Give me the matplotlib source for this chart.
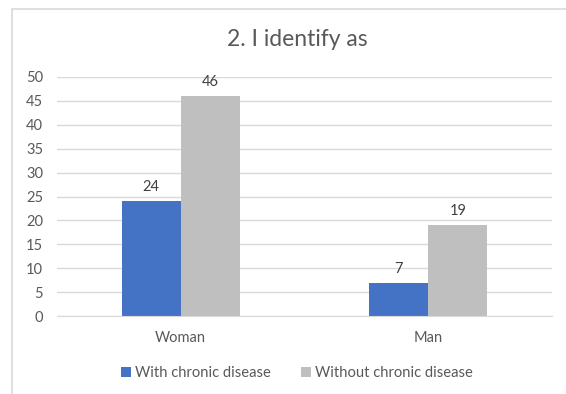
import numpy as np
import matplotlib.pyplot as plt
from matplotlib.patches import Rectangle

plt.rcParams['font.family'] = ['Lato', 'DejaVu Sans']

categories = ['Woman', 'Man']
with_chronic = [24, 7]
without_chronic = [46, 19]
series_names = ['With chronic disease', 'Without chronic disease']
colors = ['#4472C4', '#BFBFBF']
text_color = '#595959'

fig = plt.figure(figsize=(5.66, 3.94), dpi=100)

# light chart frame (open on the right and bottom)
fig.patches.append(Rectangle((12 / 566, -0.1), 1.2, 1 - 9 / 394 + 0.1,
                             transform=fig.transFigure, fill=False,
                             edgecolor='#d9d9d9', linewidth=1.2))

ax = fig.add_axes([57 / 566, 1 - 316 / 394, 495 / 566, 239 / 394])

x = np.arange(len(categories))
w = 0.238

bars1 = ax.bar(x - w / 2, with_chronic, w, color=colors[0], label=series_names[0], zorder=2)
bars2 = ax.bar(x + w / 2, without_chronic, w, color=colors[1], label=series_names[1], zorder=2)

for bars in (bars1, bars2):
    for b in bars:
        ax.annotate(f'{b.get_height():g}', (b.get_x() + b.get_width() / 2, b.get_height()),
                    xytext=(0, 5), textcoords='offset points', ha='center', va='bottom',
                    fontsize=10.5, color='#404040')

ax.set_xlim(-0.5, 1.5)
ax.set_ylim(0, 50)
ax.set_yticks(range(0, 51, 5))
ax.set_xticks(x, categories)
ax.grid(axis='y', color='#d9d9d9', linewidth=1, zorder=0)
for s in ['top', 'right', 'left']:
    ax.spines[s].set_visible(False)
ax.spines['bottom'].set_color('#d9d9d9')
ax.tick_params(axis='both', length=0, labelsize=10.5, colors=text_color)
ax.tick_params(axis='x', pad=11)
ax.tick_params(axis='y', pad=10)

fig.text(297 / 566, 1 - 40 / 394, '2. I identify as', ha='center', va='center',
         fontsize=16.5, color=text_color)

fig.legend(loc='center', bbox_to_anchor=(297 / 566, 1 - 373 / 394), ncol=2,
           frameon=False, fontsize=10.6, labelcolor=text_color,
           handlelength=0.7, handleheight=0.7, handletextpad=0.3, columnspacing=2.0)

plt.savefig('out.png', dpi=100)
